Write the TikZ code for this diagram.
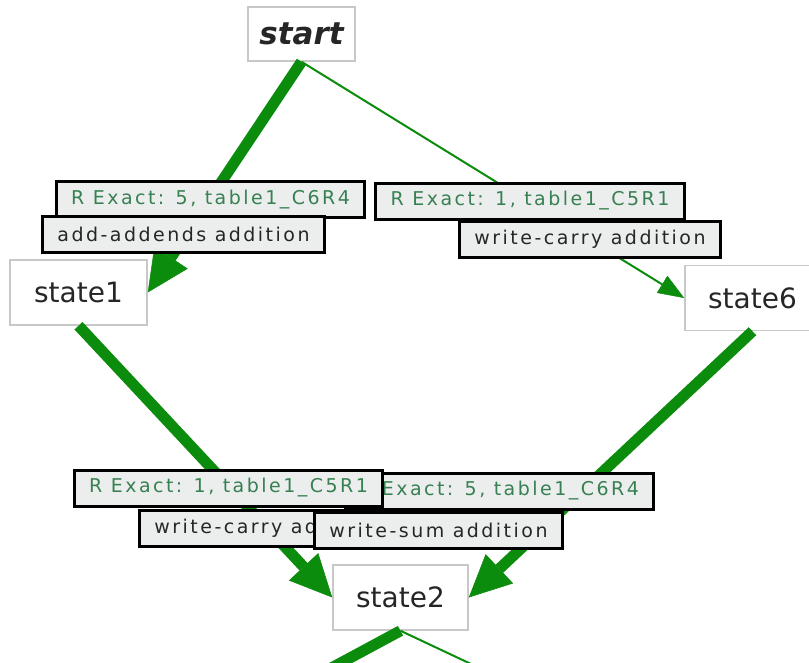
\documentclass[tikz,border=0pt]{standalone}
\usepackage{fontspec}
\setmainfont{DejaVu Sans}
\newfontfamily\tagfont[LetterSpace=13]{DejaVu Sans}
\usetikzlibrary{arrows.meta}
\definecolor{edgegreen}{RGB}{12,140,12}
\definecolor{rulegreen}{RGB}{55,128,82}
\definecolor{tagfill}{RGB}{236,238,238}
\definecolor{boxgray}{RGB}{200,200,200}
\tikzset{
    state/.style={draw=boxgray, line width=1.5pt, fill=white, minimum width=135pt, minimum height=65pt,
        text=black!85, font=\fontsize{28}{30}\selectfont},
    tag/.style={draw=black, line width=3pt, fill=tagfill, minimum height=36pt, inner xsep=15pt, inner ysep=0pt,
        font=\tagfont\fontsize{19}{21}\selectfont},
    rule/.style={tag, text=rulegreen},
    act/.style={tag, text=black!85},
    heavy/.style={draw=edgegreen, line width=11pt, -{Triangle[length=42pt, width=40pt, line width=0.5pt]}},
    light/.style={draw=edgegreen, line width=2pt, -{Triangle[length=26pt, width=20pt, line width=0.5pt]}},
}
\begin{document}
\begin{tikzpicture}[x=1pt, y=-1pt]
    \useasboundingbox (0,0) rectangle (809,662);
    \clip (0,0) rectangle (809,662);
    % states
    \node[state, minimum width=107pt, minimum height=54pt, font=\bfseries\itshape\fontsize{31}{33}\selectfont] (start) at (301.5,34) {start};
    \node[state, minimum width=137pt] (state1) at (78.5,292.5) {state1};
    \node[state] (state6) at (752.5,298) {state6};
    \node[state] (state2) at (400.5,597.5) {state2};
    \coordinate (down1) at (309,680);
    \coordinate (down2) at (505,680);
    % transitions
    \draw[heavy] (start.south) -- (state1.east);
    \draw[light] (start.south) -- (state6.west);
    \draw[heavy] (state1.south) -- (state2.west);
    \draw[heavy] (state6.south) -- (state2.east);
    \draw[heavy, -] (state2.south) -- (down1);
    \draw[light, -] (state2.south) -- (down2);
    % edge labels
    \node[rule] (rule1) at (210.5,199.5) {R Exact: 5, table1\_C6R4};
    \node[act] (act1) at (183.5,234.5) {add-addends addition};
    \node[rule] (rule2) at (530,201) {R Exact: 1, table1\_C5R1};
    \node[act] (act2) at (590,239.5) {write-carry addition};
    \node[rule] (rule4) at (499.5,491) {R Exact: 5, table1\_C6R4};
    \node[rule] (rule3) at (228.5,488) {R Exact: 1, table1\_C5R1};
    \node[act] (act3) at (270,528.5) {write-carry addition};
    \node[act] (act4) at (438.5,530.5) {write-sum addition};
\end{tikzpicture}
\end{document}
